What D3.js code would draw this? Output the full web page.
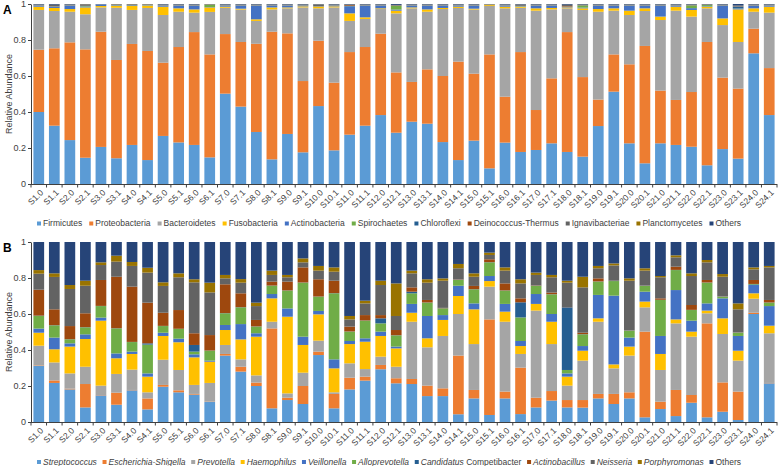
<!DOCTYPE html>
<html><head><meta charset="utf-8">
<script src="https://cdn.jsdelivr.net/npm/d3@7"></script>
<style>body{margin:0;background:#fff;} text{font-family:"Liberation Sans",Arial,sans-serif;}</style>
</head><body><svg id="chart" width="778" height="466"></svg>
<script>
const categories = ["S1.0","S1.1","S2.0","S2.1","S3.0","S3.1","S4.0","S4.1","S5.0","S5.1","S6.0","S6.1","S7.0","S7.1","S8.0","S8.1","S9.0","S9.1","S10.0","S10.1","S11.0","S11.1","S12.0","S12.1","S13.0","S13.1","S14.0","S14.1","S15.0","S15.1","S16.0","S16.1","S17.0","S17.1","S18.0","S18.1","S19.0","S19.1","S20.0","S20.1","S21.0","S21.1","S22.0","S22.1","S23.0","S23.1","S24.0","S24.1"];
const yTicks = [0, 0.2, 0.4, 0.6, 0.8, 1];

// Panel A: phyla
const phylaNames = ["Firmicutes","Proteobacteria","Bacteroidetes","Fusobacteria","Actinobacteria","Spirochaetes","Chloroflexi","Deinococcus-Thermus","Ignavibacteriae","Planctomycetes","Others"];
const firmicutes = [.400,.324,.244,.146,.206,.143,.217,.133,.267,.231,.217,.148,.502,.430,.289,.137,.278,.176,.433,.187,.274,.324,.383,.285,.346,.335,.233,.133,.241,.087,.230,.178,.189,.226,.178,.152,.322,.513,.226,.115,.226,.217,.207,.104,.194,.141,.726,.383];
const proteobacteria = [.346,.430,.543,.602,.640,.546,.561,.606,.407,.530,.627,.572,.331,.359,.490,.709,.559,.396,.363,.376,.459,.437,.452,.335,.221,.302,.367,.547,.372,.633,.255,.555,.222,.361,.666,.442,.147,.207,.439,.652,.293,.250,.304,.685,.397,.389,.137,.261];
const bacteroidetes = [.221,.207,.170,.195,.135,.290,.189,.239,.265,.196,.108,.236,.146,.180,.127,.124,.139,.409,.180,.418,.173,.156,.137,.328,.409,.320,.372,.298,.356,.269,.491,.246,.552,.383,.132,.373,.488,.243,.274,.194,.392,.496,.419,.187,.292,.259,.094,.308];
const fusobacteria = [.018,.017,.015,.038,.008,.011,.022,.013,.046,.019,.018,.025,.006,.005,.009,.011,.005,.006,.009,.006,.042,.009,.004,.015,.005,.013,.006,.007,.005,.005,.009,.006,.013,.008,.005,.009,.015,.013,.024,.015,.019,.022,.037,.009,.037,.181,.019,.033];
const actinobacteria = [.006,.006,.019,.004,.008,.003,.003,.002,.006,.015,.021,.002,.006,.017,.076,.010,.010,.004,.001,.004,.040,.065,.015,.006,.010,.021,.013,.006,.017,.001,.006,.002,.015,.013,.003,.004,.019,.015,.028,.015,.061,.006,.010,.003,.071,.004,.015,.006];
const spirochaetes = [.001,.001,.001,.003,0,.001,.001,.001,.001,.001,.001,.012,.001,.001,.001,.001,.001,.001,.001,.001,.001,.001,.001,.020,.001,.001,.001,.001,.001,.001,.001,.001,.001,.001,.001,.012,.001,.001,.001,.001,.001,.001,.015,.006,.001,.001,.001,.001];
const chloroflexi = [.001,.001,.001,.001,.001,.001,.001,.001,.001,.001,.001,.001,.001,.001,.001,.001,.001,.001,.001,.001,.001,.001,.001,.001,.001,.001,.001,.001,.001,0,.001,.001,.001,.001,.001,.001,.001,.001,.001,.001,.001,.001,.001,.001,.001,.010,.001,.001];
const deinococcus = [.001,.001,.001,.001,0,.001,.001,.001,.001,.001,.001,.001,.001,.001,.001,.001,.001,.001,.001,.001,.004,.001,.001,.001,.001,.001,.001,.001,.001,.001,.001,.001,.001,.001,.003,.001,.001,.001,.001,.001,.001,.001,.001,.001,.001,.001,.001,.001];
const ignavibacteriae = [.002,.008,.002,.008,.001,.002,.003,.002,.002,.002,.002,.001,.002,.002,.002,.002,.002,.002,.008,.002,.002,.002,.002,.003,.002,.002,.002,.002,.002,.001,.002,.006,.002,.002,.006,.002,.002,.002,.002,.002,.002,.002,.002,.001,.002,.004,.002,.002];
const planctomycetes = [.001,.001,.001,.001,0,.001,.001,.001,.001,.001,.001,.001,.001,.001,.001,.001,.001,.001,.001,.001,.001,.001,.001,.001,.001,.001,.001,.001,.001,.001,.001,.001,.001,.001,.001,.001,.001,.001,.001,.001,.001,.001,.001,.001,.001,.001,.001,.001];
const othersA = [.003,.004,.003,.001,.001,.001,.001,.001,.003,.003,.003,.001,.003,.003,.003,.003,.003,.003,.002,.003,.003,.003,.003,.005,.003,.003,.003,.003,.003,.001,.003,.003,.003,.003,.004,.003,.003,.003,.003,.003,.003,.003,.003,.002,.003,.009,.003,.003];

// Panel B: genera
const generaNames = ["Streptococcus","Escherichia-Shigella","Prevotella","Haemophilus","Veillonella","Alloprevotella","Candidatus Competibacter","Actinobacillus","Neisseria","Porphyromonas","Others"];
const streptococcus = [.311,.217,.181,.081,.148,.096,.176,.070,.196,.165,.152,.111,.369,.280,.200,.076,.122,.100,.372,.076,.181,.230,.293,.215,.211,.144,.144,.043,.131,.039,.131,.044,.081,.119,.081,.080,.131,.100,.131,.026,.072,.033,.107,.026,.057,.011,.600,.215];
const escherichia = [.003,.014,.004,.130,.002,.067,.002,.061,.010,.011,.004,.002,.009,.027,.019,.444,.013,.100,.019,.080,.065,.022,.024,.028,.028,.058,.043,.326,.047,.531,.038,.258,.054,.053,.041,.042,.025,.056,.034,.476,.041,.145,.043,.522,.163,.158,.007,.002];
const prevotella = [.110,.100,.085,.096,.052,.104,.113,.034,.140,.113,.050,.104,.050,.041,.040,.037,.024,.074,.061,.009,.080,.042,.046,.064,.318,.213,.291,.231,.255,.182,.388,.076,.484,.261,.080,.219,.401,.142,.204,.135,.176,.370,.324,.056,.269,.172,.078,.276];
const haemophilus = [.072,.073,.149,.154,.361,.087,.087,.087,.132,.154,.153,.118,.083,.111,.215,.130,.426,.154,.146,.133,.107,.152,.115,.102,.050,.050,.089,.100,.193,.031,.056,.044,.037,.124,.050,.055,.019,.022,.050,.032,.089,.022,.028,.015,.087,.055,.030,.042];
const veillonella = [.023,.065,.018,.026,.017,.027,.013,.018,.018,.020,.017,.006,.028,.085,.019,.024,.046,.046,.019,.050,.017,.019,.024,.010,.049,.124,.027,.057,.033,.028,.043,.028,.055,.043,.018,.026,.130,.382,.050,.055,.100,.163,.061,.040,.111,.082,.046,.109];
const alloprevotella = [.070,.068,.022,.039,.064,.139,.053,.160,.037,.054,.015,.055,.065,.093,.037,.046,.099,.300,.079,.367,.052,.098,.046,.062,.059,.074,.037,.032,.078,.076,.074,.131,.045,.109,.019,.065,.074,.081,.038,.032,.200,.111,.059,.115,.009,.018,.004,.019];
const candidatus = [.002,.001,.001,.001,.001,.001,.001,.007,.001,.001,.037,.001,.001,.001,.001,.001,.001,.001,.001,.001,.001,.001,.028,.001,.009,.001,.001,.001,.001,.001,.001,.084,.001,.001,.348,.001,.001,.001,.001,.001,.001,.001,.001,.001,.001,.001,.002,.001];
const actinobacillus = [.144,.088,.073,.077,.144,.286,.307,.226,.073,.104,.065,.086,.160,.077,.036,.022,.049,.084,.096,.069,.027,.030,.018,.029,.024,.014,.002,.002,.018,.016,.039,.022,.002,.009,.001,.008,.017,.001,.001,.001,.008,.018,.027,.014,.001,.001,.022,.014];
const neisseria = [.089,.180,.206,.153,.083,.084,.115,.167,.149,.182,.283,.237,.033,.059,.077,.037,.024,.028,.048,.050,.040,.065,.167,.078,.078,.096,.151,.062,.051,.024,.071,.083,.058,.085,.136,.252,.056,.085,.276,.083,.117,.052,.161,.098,.109,.128,.059,.181];
const porphyromonas = [.020,.020,.022,.028,.015,.033,.022,.027,.020,.022,.017,.054,.019,.020,.019,.024,.013,.022,.026,.024,.019,.015,.024,.181,.015,.019,.013,.024,.019,.013,.018,.023,.013,.013,.011,.059,.013,.011,.013,.013,.007,.011,.015,.013,.015,.033,.011,.008];
const othersB = [.156,.174,.239,.215,.113,.076,.111,.143,.224,.174,.207,.226,.183,.206,.337,.159,.183,.091,.133,.141,.411,.326,.215,.230,.159,.207,.202,.122,.174,.059,.141,.207,.170,.183,.215,.193,.133,.119,.202,.146,.189,.074,.174,.100,.178,.341,.141,.133];

const colors = ["#5B9BD5","#ED7D31","#A5A5A5","#FFC000","#4472C4","#70AD47","#255E91","#9E480E","#636363","#997300","#264478"];

const svg = d3.select("#chart");
const textColor = "#404040";

function drawPanel(opt) {
  const keys = opt.names;
  const rows = categories.map((c, i) => {
    const r = {cat: c};
    opt.series.forEach((s, k) => r[keys[k]] = s[i]);
    return r;
  });
  const stacked = d3.stack().keys(keys)(rows);
  const x = d3.scaleBand().domain(categories).range([31, 777]).paddingInner(0.31).paddingOuter(0.155);
  const y = d3.scaleLinear().domain([0, 1]).range([opt.y0, opt.y1]);
  const g = svg.append("g");
  stacked.forEach((layer, k) => {
    g.append("g").attr("fill", colors[k]).selectAll("rect").data(layer).join("rect")
      .attr("x", d => x(d.data.cat)).attr("width", x.bandwidth())
      .attr("y", d => y(Math.min(1, d[1])))
      .attr("height", d => Math.max(0, y(Math.min(1, d[0])) - y(Math.min(1, d[1]))));
  });
  // y axis
  const ya = g.append("g").attr("transform", "translate(31,0)")
    .call(d3.axisLeft(y).tickValues(yTicks).tickSize(3).tickSizeOuter(0)
      .tickFormat(d => (d === 0 || d === 1) ? String(d) : d.toFixed(1)));
  ya.select(".domain").attr("stroke", "#404040");
  ya.selectAll(".tick line").attr("stroke", "#404040");
  ya.selectAll("text").attr("fill", textColor).style("font-size", "9px").style("font-family", '"Liberation Sans",Arial,sans-serif').attr("x", -5);
  // x axis line & ticks at boundaries
  g.append("line").attr("x1", 31).attr("x2", 777).attr("y1", opt.y0 + 0.5).attr("y2", opt.y0 + 0.5).attr("stroke", "#404040");
  const step = x.step();
  d3.range(categories.length + 1).forEach(i => {
    const bx = 31 + i * step;
    g.append("line").attr("x1", bx).attr("x2", bx).attr("y1", opt.y0).attr("y2", opt.y0 + 3.5).attr("stroke", "#404040");
  });
  g.append("g").selectAll("text").data(categories).join("text")
    .attr("transform", d => `translate(${x(d) + x.bandwidth() / 2 + 3},${opt.y0 + 7}) rotate(-45)`)
    .attr("text-anchor", "end").attr("dy", "0.35em")
    .attr("fill", textColor).style("font-size", "8.5px").text(d => d);
  // axis title
  g.append("text").attr("transform", `translate(12,${(opt.y0 + opt.y1) / 2}) rotate(-90)`)
    .attr("text-anchor", "middle").attr("fill", textColor).style("font-size", "9px").text("Relative Abundance");
  // panel letter
  g.append("text").attr("x", 3).attr("y", opt.y1 + 10).style("font-size", "12px").style("font-weight", "bold").attr("fill", "#000").text(opt.letter);
  // legend
  const lg = g.append("g");
  const items = keys.map((n, k) => {
    const it = lg.append("g");
    it.append("rect").attr("width", 4).attr("height", 4).attr("y", -4).attr("fill", colors[k]);
    const t = it.append("text").attr("x", 6).attr("y", 0.5).attr("fill", textColor).style("font-size", "8.5px");
    if (opt.italic && n === "Candidatus Competibacter") {
      t.append("tspan").style("font-style", "italic").text("Candidatus");
      t.append("tspan").text(" Competibacter");
    } else {
      t.text(n);
      if (opt.italic && n !== "Others") t.style("font-style", "italic");
    }
    return {it, w: 6 + t.node().getComputedTextLength()};
  });
  const total = d3.sum(items, d => d.w);
  const gap = (741 - 37 - total) / (items.length - 1);
  let cx = 37;
  items.forEach(d => { d.it.attr("transform", `translate(${cx},${opt.legendY})`); cx += d.w + gap; });
}

drawPanel({names: phylaNames, series: [firmicutes, proteobacteria, bacteroidetes, fusobacteria, actinobacteria, spirochaetes, chloroflexi, deinococcus, ignavibacteriae, planctomycetes, othersA], y0: 184, y1: 4, letter: "A", legendY: 225.5, italic: false});
drawPanel({names: generaNames, series: [streptococcus, escherichia, prevotella, haemophilus, veillonella, alloprevotella, candidatus, actinobacillus, neisseria, porphyromonas, othersB], y0: 422, y1: 242, letter: "B", legendY: 464, italic: true});
</script>
</body></html>
